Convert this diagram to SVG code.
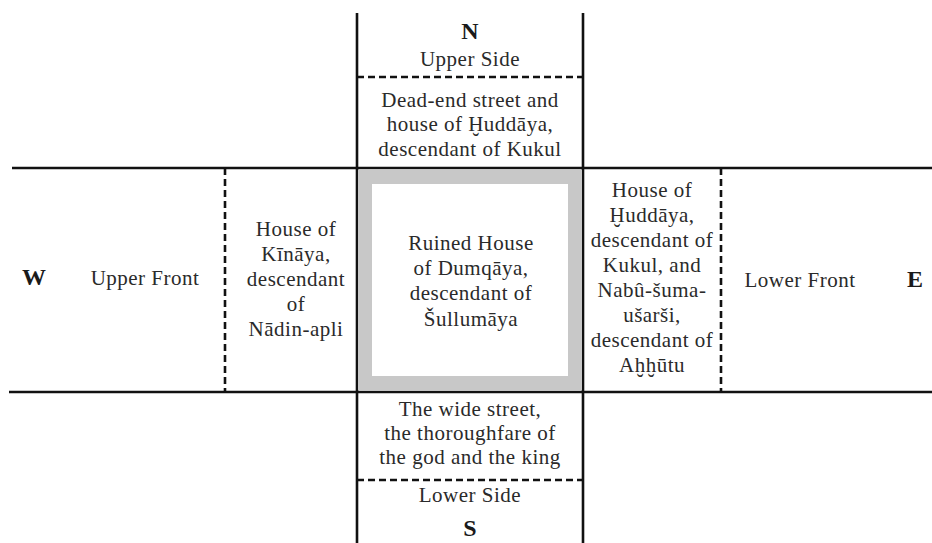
<svg xmlns="http://www.w3.org/2000/svg" width="932" height="543" viewBox="0 0 932 543">
<style>
.t{font-family:"Liberation Serif","Times New Roman",serif;font-size:21px;fill:#2a2a2a;text-anchor:middle;letter-spacing:0.5px}
.b{font-family:"Liberation Serif","Times New Roman",serif;font-size:24px;font-weight:bold;fill:#1a1a1a;text-anchor:middle}
.s{stroke:#111;stroke-width:2.6;fill:none}
.d{stroke:#111;stroke-width:2.6;fill:none;stroke-dasharray:7 4}
</style>
<rect width="932" height="543" fill="#fff"/>
<g id="connectors">
<line class="s" x1="357" y1="13" x2="357" y2="543"/>
<line class="s" x1="583" y1="13" x2="583" y2="543"/>
<line class="s" x1="12" y1="168" x2="932" y2="168"/>
<line class="s" x1="9" y1="392" x2="932" y2="392"/>
<line class="d" x1="357" y1="77" x2="583" y2="77"/>
<line class="d" x1="357" y1="480" x2="583" y2="480"/>
<line class="d" x1="225" y1="168" x2="225" y2="392"/>
<line class="d" x1="721" y1="168" x2="721" y2="392"/>
</g>
<g id="north">
<text class="b" x="470" y="39">N</text>
<text class="t" x="470" y="66">Upper Side</text>
</g>
<g id="north-house">
<text class="t" x="470" y="107">Dead-end street and</text>
<text class="t" x="470" y="131">house of Ḫuddāya,</text>
<text class="t" x="470" y="156">descendant of Kukul</text>
</g>
<g id="west">
<text class="b" x="34" y="285">W</text>
<text class="t" x="145" y="285">Upper Front</text>
</g>
<g id="west-house">
<text class="t" x="296" y="236">House of</text>
<text class="t" x="296" y="261">Kīnāya,</text>
<text class="t" x="296" y="286">descendant</text>
<text class="t" x="296" y="311">of</text>
<text class="t" x="296" y="336">Nādin-apli</text>
</g>
<g id="center">
<rect x="365" y="177" width="210" height="206" fill="#fff" stroke="#c8c8c8" stroke-width="14"/>
<text class="t" x="471" y="250">Ruined House</text>
<text class="t" x="471" y="275">of Dumqāya,</text>
<text class="t" x="471" y="300">descendant of</text>
<text class="t" x="471" y="326">Šullumāya</text>
</g>
<g id="east-house">
<text class="t" x="652" y="197">House of</text>
<text class="t" x="652" y="222">Ḫuddāya,</text>
<text class="t" x="652" y="247">descendant of</text>
<text class="t" x="652" y="272">Kukul, and</text>
<text class="t" x="652" y="297">Nabû-šuma-</text>
<text class="t" x="652" y="322">ušarši,</text>
<text class="t" x="652" y="347">descendant of</text>
<text class="t" x="652" y="372">Aḫḫūtu</text>
</g>
<g id="east">
<text class="t" x="800" y="287">Lower Front</text>
<text class="b" x="915" y="287">E</text>
</g>
<g id="south-street">
<text class="t" x="470" y="416">The wide street,</text>
<text class="t" x="470" y="440">the thoroughfare of</text>
<text class="t" x="470" y="464">the god and the king</text>
</g>
<g id="south">
<text class="t" x="470" y="502">Lower Side</text>
<text class="b" x="470" y="536">S</text>
</g>
</svg>
